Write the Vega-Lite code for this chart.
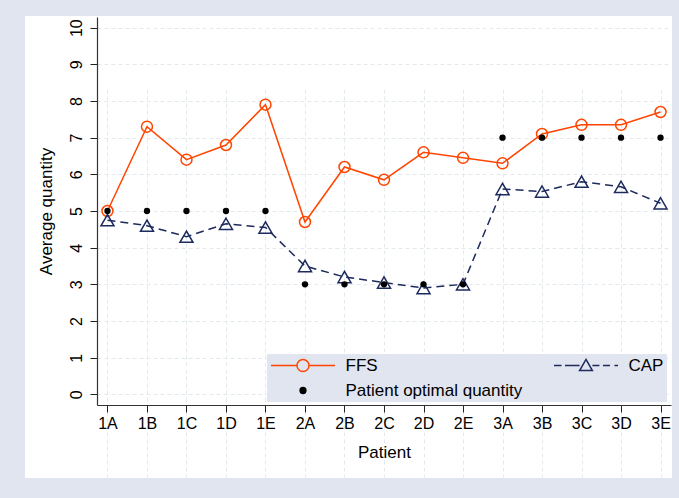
{
  "$schema": "https://vega.github.io/schema/vega-lite/v6.json",
  "width": 647,
  "height": 462,
  "padding": {"left": 25, "top": 16, "right": 7, "bottom": 20},
  "background": "#e1e5ef",
  "config": {
    "view": {"fill": "white", "stroke": null},
    "font": "Liberation Sans",
    "axis": {
      "labelFont": "Liberation Sans",
      "titleFont": "Liberation Sans",
      "labelColor": "#000",
      "titleColor": "#000",
      "labelFontSize": 16,
      "titleFontSize": 17,
      "titleFontWeight": "normal",
      "tickSize": 7,
      "tickColor": "#222",
      "domainColor": "#333",
      "domainWidth": 1.2,
      "grid": true,
      "gridColor": "#e3eaee",
      "gridDash": [4, 3],
      "gridWidth": 1
    }
  },
  "data": {
    "values": [
      {"patient": "1A", "series": "FFS", "value": 5.0},
      {"patient": "1B", "series": "FFS", "value": 7.3},
      {"patient": "1C", "series": "FFS", "value": 6.4},
      {"patient": "1D", "series": "FFS", "value": 6.8},
      {"patient": "1E", "series": "FFS", "value": 7.9},
      {"patient": "2A", "series": "FFS", "value": 4.7},
      {"patient": "2B", "series": "FFS", "value": 6.2},
      {"patient": "2C", "series": "FFS", "value": 5.85},
      {"patient": "2D", "series": "FFS", "value": 6.6},
      {"patient": "2E", "series": "FFS", "value": 6.45},
      {"patient": "3A", "series": "FFS", "value": 6.3},
      {"patient": "3B", "series": "FFS", "value": 7.1},
      {"patient": "3C", "series": "FFS", "value": 7.35},
      {"patient": "3D", "series": "FFS", "value": 7.35},
      {"patient": "3E", "series": "FFS", "value": 7.7},
      {"patient": "1A", "series": "CAP", "value": 4.75},
      {"patient": "1B", "series": "CAP", "value": 4.6},
      {"patient": "1C", "series": "CAP", "value": 4.3},
      {"patient": "1D", "series": "CAP", "value": 4.65},
      {"patient": "1E", "series": "CAP", "value": 4.55},
      {"patient": "2A", "series": "CAP", "value": 3.5},
      {"patient": "2B", "series": "CAP", "value": 3.2},
      {"patient": "2C", "series": "CAP", "value": 3.05},
      {"patient": "2D", "series": "CAP", "value": 2.9},
      {"patient": "2E", "series": "CAP", "value": 3.0},
      {"patient": "3A", "series": "CAP", "value": 5.6},
      {"patient": "3B", "series": "CAP", "value": 5.53},
      {"patient": "3C", "series": "CAP", "value": 5.8},
      {"patient": "3D", "series": "CAP", "value": 5.66},
      {"patient": "3E", "series": "CAP", "value": 5.21},
      {"patient": "1A", "series": "Patient optimal quantity", "value": 5},
      {"patient": "1B", "series": "Patient optimal quantity", "value": 5},
      {"patient": "1C", "series": "Patient optimal quantity", "value": 5},
      {"patient": "1D", "series": "Patient optimal quantity", "value": 5},
      {"patient": "1E", "series": "Patient optimal quantity", "value": 5},
      {"patient": "2A", "series": "Patient optimal quantity", "value": 3},
      {"patient": "2B", "series": "Patient optimal quantity", "value": 3},
      {"patient": "2C", "series": "Patient optimal quantity", "value": 3},
      {"patient": "2D", "series": "Patient optimal quantity", "value": 3},
      {"patient": "2E", "series": "Patient optimal quantity", "value": 3},
      {"patient": "3A", "series": "Patient optimal quantity", "value": 7},
      {"patient": "3B", "series": "Patient optimal quantity", "value": 7},
      {"patient": "3C", "series": "Patient optimal quantity", "value": 7},
      {"patient": "3D", "series": "Patient optimal quantity", "value": 7},
      {"patient": "3E", "series": "Patient optimal quantity", "value": 7}
    ]
  },
  "encoding": {
    "x": {
      "field": "patient",
      "type": "ordinal",
      "scale": {
        "type": "point",
        "domain": ["1A","1B","1C","1D","1E","2A","2B","2C","2D","2E","3A","3B","3C","3D","3E"],
        "range": [72, 646],
        "padding": 0.265
      },
      "axis": {
        "title": "Patient",
        "offset": -73,
        "labelAngle": 0,
        "labelPadding": 3.5,
        "titlePadding": 13
      }
    },
    "y": {
      "field": "value",
      "type": "quantitative",
      "scale": {"domain": [-0.29, 10.29], "range": [389, 1], "nice": false, "zero": false},
      "axis": {
        "title": "Average quantity",
        "offset": -72,
        "values": [0, 1, 2, 3, 4, 5, 6, 7, 8, 9, 10],
        "labelAngle": -90,
        "labelAlign": "center",
        "labelBaseline": "bottom",
        "labelPadding": 6,
        "titlePadding": 13
      }
    }
  },
  "layer": [
    {
      "transform": [{"filter": "datum.series === 'FFS'"}],
      "mark": {"type": "line", "color": "#ff4500", "strokeWidth": 1.5}
    },
    {
      "transform": [{"filter": "datum.series === 'CAP'"}],
      "mark": {"type": "line", "color": "#1c2a5c", "strokeWidth": 1.5, "strokeDash": [8, 5]}
    },
    {
      "transform": [{"filter": "datum.series === 'FFS'"}],
      "mark": {"type": "point", "shape": "circle", "filled": false, "size": 120, "strokeWidth": 1.5, "opacity": 1, "color": "#ff4500"}
    },
    {
      "transform": [{"filter": "datum.series === 'CAP'"}],
      "mark": {"type": "point", "shape": "triangle-up", "filled": false, "size": 170, "strokeWidth": 1.5, "opacity": 1, "color": "#1c2a5c"}
    },
    {
      "transform": [{"filter": "datum.series === 'Patient optimal quantity'"}],
      "mark": {"type": "point", "shape": "circle", "filled": true, "size": 40, "opacity": 1, "color": "#000000"}
    },
    {
      "mark": {"type": "point", "opacity": 0, "strokeWidth": 1.5},
      "encoding": {
        "shape": {
          "field": "series",
          "type": "nominal",
          "scale": {
            "domain": ["FFS", "Patient optimal quantity", "CAP"],
            "range": [
              "M-1,0H-0.1875M0.1875,0H1M0.1875,0C0.1875,0.1036 0.1036,0.1875 0,0.1875C-0.1036,0.1875 -0.1875,0.1036 -0.1875,0C-0.1875,-0.1036 -0.1036,-0.1875 0,-0.1875C0.1036,-0.1875 0.1875,-0.1036 0.1875,0Z",
              "M0.09,0C0.09,0.05 0.05,0.09 0,0.09C-0.05,0.09 -0.09,0.05 -0.09,0C-0.09,-0.05 -0.05,-0.09 0,-0.09C0.05,-0.09 0.09,-0.05 0.09,0Z",
              "M-1,0H-0.766M-0.656,0H-0.2M0.2,0H0.42M0.53,0H0.75M0.89,0H1M0,-0.19L0.2,0.16L-0.2,0.16Z"
            ]
          },
          "legend": {
            "title": null,
            "orient": "none",
            "legendX": 242,
            "legendY": 338,
            "direction": "vertical",
            "columns": 2,
            "fillColor": "#e1e5ef",
            "strokeColor": null,
            "padding": 3,
            "rowPadding": 7,
            "columnPadding": 30,
            "clipHeight": 17,
            "labelFont": "Liberation Sans",
            "labelFontSize": 17,
            "labelColor": "#000",
            "labelOffset": 9.5,
            "labelLimit": 400,
            "symbolSize": 4096,
            "symbolStrokeWidth": 1.5,
            "symbolOpacity": 1
          }
        },
        "stroke": {
          "field": "series",
          "type": "nominal",
          "scale": {
            "domain": ["FFS", "Patient optimal quantity", "CAP"],
            "range": ["#ff4500", "#000000", "#1c2a5c"]
          }
        },
        "fill": {
          "field": "series",
          "type": "nominal",
          "scale": {
            "domain": ["FFS", "Patient optimal quantity", "CAP"],
            "range": ["transparent", "#000000", "transparent"]
          }
        }
      }
    }
  ]
}
